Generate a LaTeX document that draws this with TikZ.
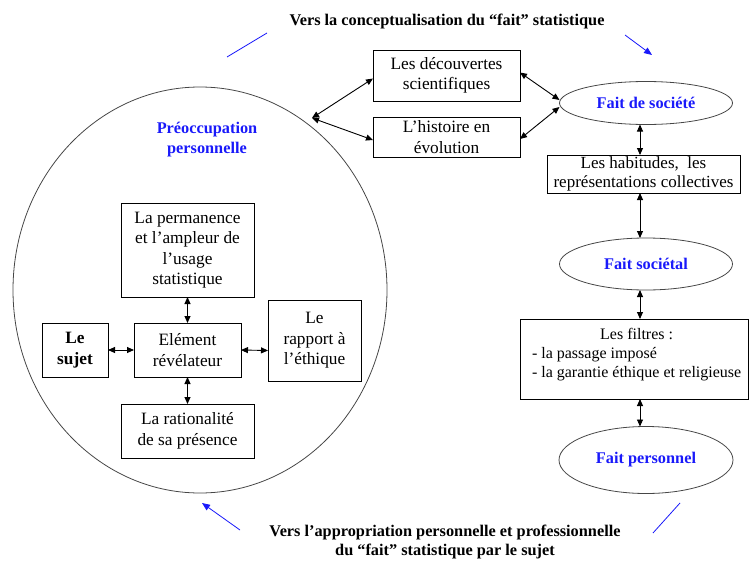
\documentclass[tikz,border=0pt]{standalone}
\usepackage{fontspec}
\setmainfont{Liberation Serif}
\usetikzlibrary{arrows.meta,shapes.geometric}
\definecolor{tblue}{RGB}{25,25,250}
\definecolor{cgray}{RGB}{70,70,70}
\begin{document}
\begin{tikzpicture}[x=1pt,y=-1pt,
 every node/.style={font=\fontsize{17.3}{20.5}\selectfont, inner sep=0pt, outer sep=0pt},
 box/.style={draw=black, line width=0.9pt, align=center},
 oval/.style={ellipse, draw=cgray, line width=0.8pt, font=\fontsize{16.3}{20}\selectfont\bfseries, text=tblue},
 dbl/.style={{Triangle[length=7pt,width=6pt]}-{Triangle[length=7pt,width=6pt]}, line width=0.9pt},
 barrow/.style={-{Triangle[length=8pt,width=6.5pt]}, draw=tblue, line width=0.8pt},
 bline/.style={draw=tblue, line width=0.8pt},
 ttl/.style={font=\fontsize{16.3}{19.5}\selectfont\bfseries, align=center}
]
\useasboundingbox (0,0) rectangle (750,562);

% big circle
\node[ellipse, draw=cgray, line width=0.8pt, minimum width=374pt, minimum height=406pt] (pc) at (200,290) {};
\node[font=\fontsize{16.3}{20}\selectfont\bfseries, text=tblue, align=center] (pctxt) at (207,140) {Préoccupation\\personnelle};

% inner boxes
\node[box, minimum width=133pt, minimum height=94pt] (perm) at (187.5,250) {La permanence\\et l’ampleur de\\l’usage\\statistique};
\node[box, minimum width=107pt, minimum height=54pt] (elem) at (187.5,350) {Elément\\révélateur};
\node[box, minimum width=66pt, minimum height=54pt, font=\fontsize{17.3}{20.5}\selectfont\bfseries] (suj) at (75,350) {Le\\sujet};
\node[box, minimum width=93pt, minimum height=81pt] (rap) at (314.5,340.5) {Le\\rapport à\\l’éthique};
\node[box, minimum width=133pt, minimum height=54pt] (rat) at (187.5,431) {La rationalité\\de sa présence};

\draw[dbl] (perm.south) -- (elem.north);
\draw[dbl] (elem.south) -- (rat.north);
\draw[dbl] (suj.east) -- (elem.west);
\draw[dbl] (elem.east) -- ([yshift=-10pt]rap.west);

% top middle boxes
\node[box, minimum width=147pt, minimum height=51pt] (d1) at (446.5,75.5) {Les découvertes\\scientifiques};
\node[box, minimum width=147pt, minimum height=40pt] (d2) at (446.5,137) {L’histoire en\\évolution};
\coordinate (j) at (312,118);
\draw[dbl] (j) -- ([yshift=-3pt]d1.west);
\draw[dbl] (j) -- ([yshift=-3pt]d2.west);

% right column
\node[oval, minimum width=173pt, minimum height=43pt] (fs) at (646,103) {Fait de société};
\node[box, minimum width=193pt, minimum height=38pt, font=\fontsize{17}{19}\selectfont] (hab) at (643.5,174) {Les habitudes,~ les\\représentations collectives};
\node[oval, minimum width=173pt, minimum height=52pt] (fst) at (646,264) {Fait sociétal};
\node[box, minimum width=228pt, minimum height=80pt] (fl) at (634,359) {};
\node[anchor=north west, align=left, font=\fontsize{16}{19}\selectfont] (fltxt) at (532,326) {\begin{tabular}{@{}l@{}}\multicolumn{1}{@{}c@{}}{Les filtres :}\\- la passage imposé\\- la garantie éthique et religieuse\end{tabular}};
\node[oval, minimum width=174pt, minimum height=67pt] (fp) at (646,460) {Fait personnel};

\draw[dbl] ([yshift=3pt]d1.east) -- ([yshift=3pt]fs.west);
\draw[dbl] ([yshift=-2pt]d2.east) -- ([yshift=-4pt]fs.west);

\coordinate (ax) at (640,0);
\draw[dbl] (fs.south -| ax) -- (hab.north -| ax);
\draw[dbl] (hab.south -| ax) -- (fst.north -| ax);
\draw[dbl] (fst.south -| ax) -- (fl.north -| ax);
\draw[dbl] (fl.south -| ax) -- (fp.north -| ax);

% titles
\node[ttl] (t1) at (447,21) {Vers la conceptualisation du “fait” statistique};
\node[ttl] (t2) at (445,542) {Vers l’appropriation personnelle et professionnelle\\du “fait” statistique par le sujet};

% blue strokes
\coordinate (a1) at (227,57); \coordinate (a2) at (267,33);
\coordinate (b1) at (625,35); \coordinate (b2) at (652,55);
\coordinate (c1) at (240,530); \coordinate (c2) at (202,503);
\coordinate (e1) at (653,533); \coordinate (e2) at (680,503);
\draw[bline] (a1) -- (a2);
\draw[barrow] (b1) -- (b2);
\draw[barrow] (c1) -- (c2);
\draw[bline] (e1) -- (e2);
\end{tikzpicture}
\end{document}
